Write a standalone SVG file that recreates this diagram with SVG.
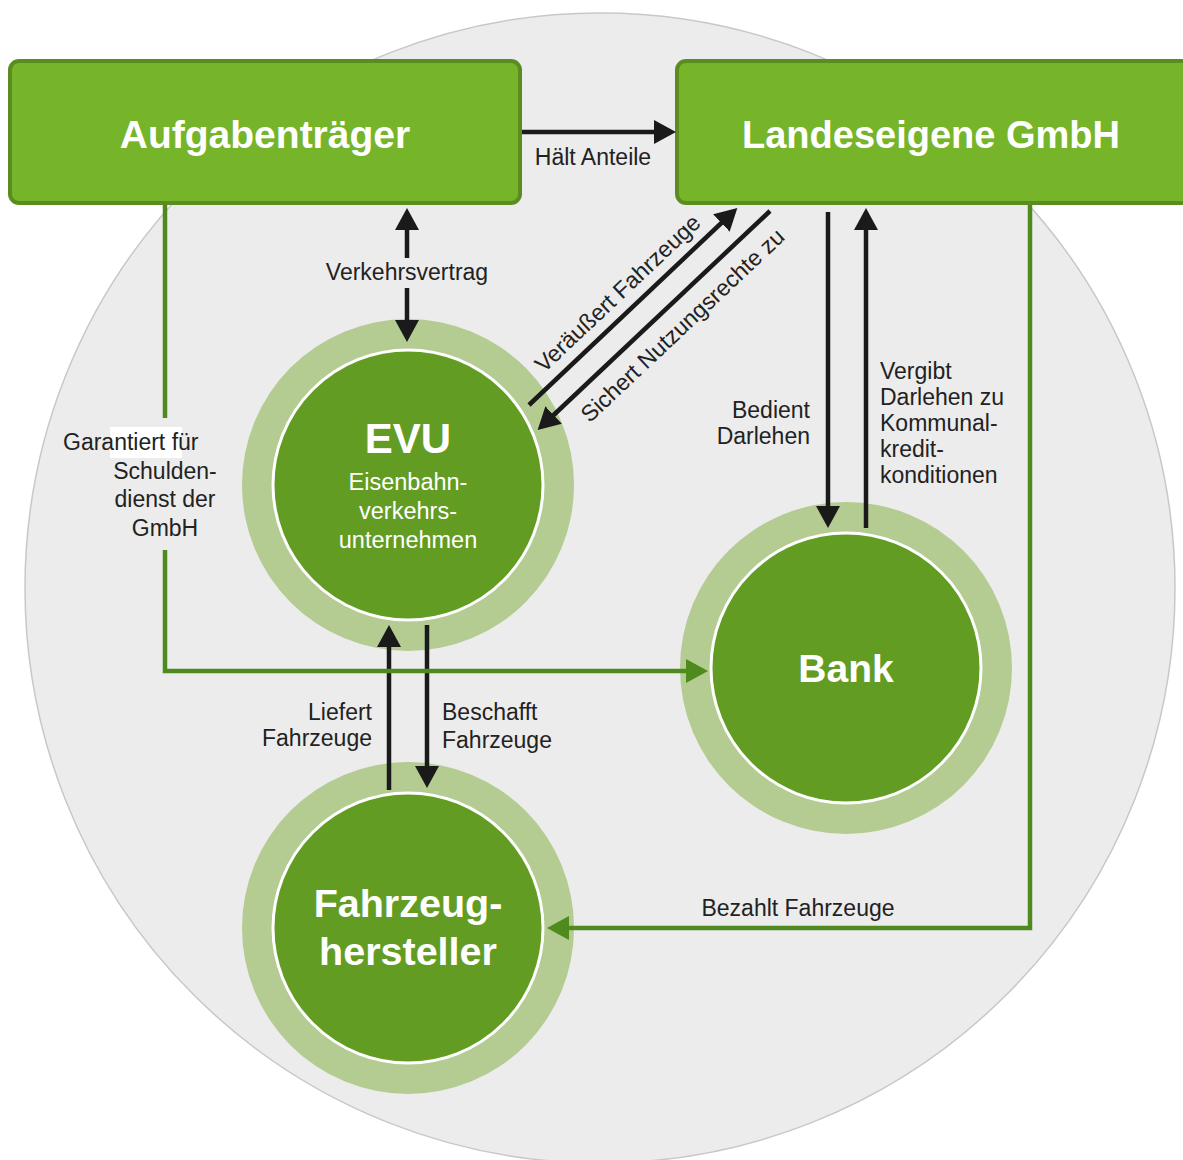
<svg xmlns="http://www.w3.org/2000/svg" width="1183" height="1160" viewBox="0 0 1183 1160">
<defs>
<style>
.box{fill:#76b52a;stroke:#5b8c1f;stroke-width:4}
.ring{fill:#b4cc92}
.core{fill:#639c23;stroke:#ffffff;stroke-width:3}
.title{font-family:"Liberation Sans",Arial,sans-serif;font-weight:bold;fill:#ffffff;text-anchor:middle}
.sub{font-family:"Liberation Sans",Arial,sans-serif;fill:#ffffff;font-size:23.5px;text-anchor:middle}
.lbl{font-family:"Liberation Sans",Arial,sans-serif;fill:#222222;font-size:23px}
.blk{fill:none;stroke:#1a1a1a;stroke-width:4.5}
.grn{fill:none;stroke:#4f8a1c;stroke-width:4.5}
</style>
<marker id="ab" viewBox="0 0 22 24" refX="16" refY="12" markerWidth="22" markerHeight="24" markerUnits="userSpaceOnUse" orient="auto"><path d="M0,0 L22,12 L0,24 Z" fill="#1a1a1a"/></marker>
<marker id="ag" viewBox="0 0 22 24" refX="16" refY="12" markerWidth="22" markerHeight="24" markerUnits="userSpaceOnUse" orient="auto"><path d="M0,0 L22,12 L0,24 Z" fill="#4f8a1c"/></marker>
</defs>
<rect x="0" y="0" width="1183" height="1160" fill="#ffffff"/>
<circle cx="600" cy="588" r="575" fill="#ececec" stroke="#c8c8c8" stroke-width="1.5"/>

<g id="aufgabentraeger">
<rect class="box" x="10" y="61" width="510" height="142" rx="9"/>
<text class="title" x="265" y="148" font-size="39">Aufgabenträger</text>
</g>
<g id="landeseigene">
<rect class="box" x="677" y="61" width="520" height="142" rx="9"/>
<text class="title" x="931" y="148" font-size="38">Landeseigene GmbH</text>
</g>
<g id="evu">
<circle class="ring" cx="408" cy="485" r="166"/>
<circle class="core" cx="408" cy="485" r="135"/>
<text class="title" x="408" y="453" font-size="42">EVU</text>
<text class="sub" x="408" y="490">Eisenbahn-</text>
<text class="sub" x="408" y="519">verkehrs-</text>
<text class="sub" x="408" y="548">unternehmen</text>
</g>
<g id="bank">
<circle class="ring" cx="846" cy="668" r="166"/>
<circle class="core" cx="846" cy="668" r="135"/>
<text class="title" x="846" y="682" font-size="39">Bank</text>
</g>
<g id="fahrzeughersteller">
<circle class="ring" cx="408" cy="928" r="166"/>
<circle class="core" cx="408" cy="928" r="135"/>
<text class="title" x="408" y="917" font-size="39.5">Fahrzeug-</text>
<text class="title" x="408" y="965" font-size="39.5">hersteller</text>
</g>

<g id="connectors">
<line class="blk" x1="522" y1="132" x2="670" y2="132" marker-end="url(#ab)"/>
<line class="blk" x1="407" y1="258" x2="407" y2="214" marker-end="url(#ab)"/>
<line class="blk" x1="407" y1="288" x2="407" y2="336" marker-end="url(#ab)"/>
<line class="blk" x1="529" y1="405" x2="733" y2="212" marker-end="url(#ab)"/>
<line class="blk" x1="770" y1="211" x2="542" y2="426" marker-end="url(#ab)"/>
<line class="blk" x1="828" y1="212" x2="828" y2="522" marker-end="url(#ab)"/>
<line class="blk" x1="866" y1="528" x2="866" y2="214" marker-end="url(#ab)"/>
<line class="blk" x1="389" y1="790" x2="389" y2="631" marker-end="url(#ab)"/>
<line class="blk" x1="427" y1="625" x2="427" y2="782" marker-end="url(#ab)"/>
<path class="grn" d="M165,205 V418"/>
<path class="grn" d="M165,550 V671 H702" marker-end="url(#ag)"/>
<path class="grn" d="M1030,205 V928 H553" marker-end="url(#ag)"/>
</g>

<g id="labels">
<text class="lbl" x="593" y="165" text-anchor="middle" font-size="23.5">Hält Anteile</text>
<text class="lbl" x="407" y="280" text-anchor="middle">Verkehrsvertrag</text>
<text class="lbl" x="623" y="299" text-anchor="middle" transform="rotate(-43.3 623 299)">Veräußert Fahrzeuge</text>
<text class="lbl" x="688" y="331" text-anchor="middle" transform="rotate(-43.3 688 331)">Sichert Nutzungsrechte zu</text>
<rect x="110" y="427" width="72" height="31" fill="#ffffff"/>
<text class="lbl" x="63" y="450">Garantiert für</text>
<text class="lbl" x="165" y="479" text-anchor="middle">Schulden-</text>
<text class="lbl" x="165" y="507" text-anchor="middle">dienst der</text>
<text class="lbl" x="165" y="536" text-anchor="middle">GmbH</text>
<text class="lbl" x="810" y="418" text-anchor="end">Bedient</text>
<text class="lbl" x="810" y="444" text-anchor="end">Darlehen</text>
<text class="lbl" x="880" y="379">Vergibt</text>
<text class="lbl" x="880" y="405">Darlehen zu</text>
<text class="lbl" x="880" y="431">Kommunal-</text>
<text class="lbl" x="880" y="457">kredit-</text>
<text class="lbl" x="880" y="483">konditionen</text>
<text class="lbl" x="372" y="720" text-anchor="end">Liefert</text>
<text class="lbl" x="372" y="746" text-anchor="end">Fahrzeuge</text>
<text class="lbl" x="442" y="720">Beschafft</text>
<text class="lbl" x="442" y="748">Fahrzeuge</text>
<text class="lbl" x="798" y="916" text-anchor="middle">Bezahlt Fahrzeuge</text>
</g>
</svg>
